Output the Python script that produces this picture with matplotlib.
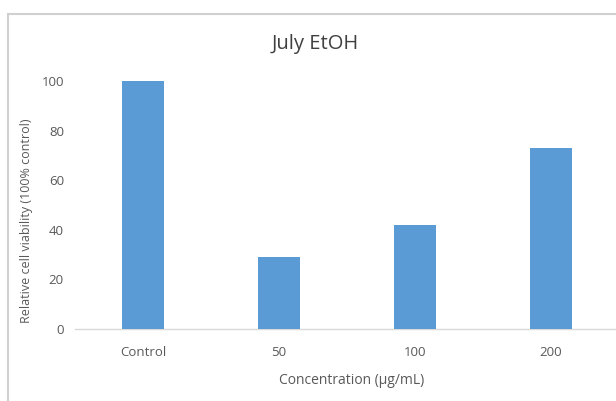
import matplotlib
matplotlib.use("Agg")
import matplotlib.pyplot as plt
from matplotlib.patches import Rectangle

categories = ["Control", "50", "100", "200"]
values = [100, 29, 42, 73]
yticks = [0, 20, 40, 60, 80, 100]
title = "July EtOH"
xlabel = "Concentration (\u00b5g/mL)"
ylabel = "Relative cell viability (100% control)"

W, H = 616, 401
fig = plt.figure(figsize=(W / 100, H / 100), dpi=100)
plt.rcParams['font.family'] = ['Open Sans', 'DejaVu Sans']

# outer chart frame
fig.patches.append(Rectangle((8 / W, -0.1), 1.2, (H - 14) / H + 0.1,
                             transform=fig.transFigure, fill=False,
                             edgecolor="#d0d0d0", linewidth=1.5))

left, right = 75, 619
bottom_px, top_px = 329, 81
ax = fig.add_axes([left / W, (H - bottom_px) / H, (right - left) / W,
                   (bottom_px - top_px) / H])
x = list(range(len(categories)))
ax.bar(x, values, width=0.31, color="#5b9bd5", zorder=3)
ax.set_xlim(-0.5, len(categories) - 0.5)
ax.set_ylim(0, 100)
ax.set_yticks(yticks)
ax.set_xticks(x)
ax.set_xticklabels(categories)
for s in ["top", "right", "left"]:
    ax.spines[s].set_visible(False)
ax.spines["bottom"].set_color("#d9d9d9")
ax.spines["bottom"].set_linewidth(1.0)
ax.tick_params(axis="both", length=0, labelsize=9.5, colors="#595959")
ax.tick_params(axis="y", pad=8)
ax.tick_params(axis="x", pad=12)
fig.text(352 / W, (H - 381) / H, xlabel, ha="center", va="center",
         fontsize=10, color="#595959")
fig.text(27 / W, (H - 221) / H, ylabel, ha="center", va="center",
         rotation=90, fontsize=9, color="#595959")
fig.text(315 / W, (H - 44) / H, title, ha="center", va="center",
         fontsize=14.5, color="#404040")

fig.savefig("out.png", dpi=100)
